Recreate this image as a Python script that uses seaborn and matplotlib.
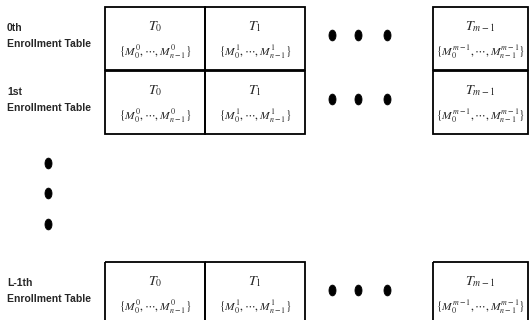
import matplotlib
matplotlib.use("Agg")
import matplotlib.pyplot as plt
import matplotlib.patches as mpatches
import numpy as np
import pandas as pd
import seaborn as sns

sns.set_style("white")
plt.rcParams["font.family"] = ["Liberation Sans Narrow", "Liberation Sans", "DejaVu Sans"]
plt.rcParams["mathtext.fontset"] = "stix"

# content of the diagram
row_names = ["0th", "1st", "L-1th"]
row_caption = "Enrollment Table"
table_names = [r"$T_0$", r"$T_1$", r"$T_{m-1}$"]
member_sets = [r"$\{M_0^0,\cdots,M_{n-1}^0\}$",
               r"$\{M_0^1,\cdots,M_{n-1}^1\}$",
               r"$\{M_0^{m-1},\cdots,M_{n-1}^{m-1}\}$"]

# layout (pixels)
W, H = 529, 320
row_tops = [7, 71, 262]
row_h = 63
col_lefts = [105, 205, 433]
col_w = [100, 100, 95]

fig = plt.figure(figsize=(W / 100, H / 100), dpi=100)
ax = fig.add_axes([0, 0, 1, 1])

for r, top in enumerate(row_tops):
    ax.text(7, top + 21, row_names[r], fontsize=7.5, fontweight="bold",
            va="center", ha="left")
    ax.text(7, top + 37, row_caption, fontsize=7.5, fontweight="bold",
            va="center", ha="left")
    for c, left in enumerate(col_lefts):
        ax.add_patch(mpatches.Rectangle((left, top), col_w[c], row_h,
                                        fill=False, ec="black", lw=1.3))
        cx = left + col_w[c] / 2
        ax.text(cx, top + 20, table_names[c], fontsize=10, ha="center", va="center")
        ax.text(cx, top + 45, member_sets[c], fontsize=8.3, ha="center", va="center")

# ellipsis dots
t = np.linspace(0, 2 * np.pi, 40)
dot = list(zip(0.65 * np.cos(t), np.sin(t)))
hx = [332, 358, 387]
dots = pd.DataFrame({
    "x": hx * 3 + [48, 48, 48],
    "y": [top + 28 for top in row_tops for _ in hx] + [163, 193, 224],
})
sns.scatterplot(data=dots, x="x", y="y", marker=dot, s=60, color="black",
                edgecolor="black", ax=ax, legend=False)
ax.set_xlim(0, W)
ax.set_ylim(H, 0)
ax.axis("off")

fig.savefig("out.png", dpi=100, facecolor="white")
